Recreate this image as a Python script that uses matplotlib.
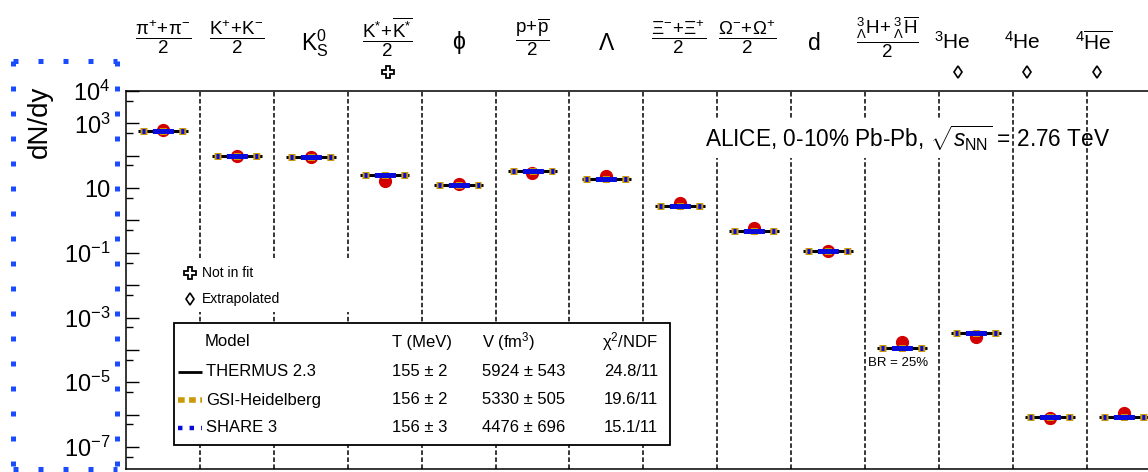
import numpy as np
import matplotlib
matplotlib.use('Agg')
import matplotlib.pyplot as plt
import matplotlib.transforms as mtransforms
from matplotlib.patches import Rectangle
from matplotlib.ticker import FixedLocator, FixedFormatter, NullFormatter

plt.rcParams['font.family'] = ['Liberation Sans', 'DejaVu Sans']
plt.rcParams['mathtext.fontset'] = 'custom'
plt.rcParams['mathtext.rm'] = 'Liberation Sans'
plt.rcParams['mathtext.it'] = 'Liberation Sans:italic'
plt.rcParams['mathtext.bf'] = 'Liberation Sans:bold'
plt.rcParams['mathtext.sf'] = 'Liberation Sans'

# ---------------- data ----------------
particles = [r'$\dfrac{\mathrm{π^{+}\!+\!π^{-}}}{2}$',
             r'$\dfrac{\mathrm{K^{+}\!+\!K^{-}}}{2}$',
             r'$\mathrm{K^{0}_{S}}$',
             r'$\dfrac{\mathrm{K^{*}\!+\!\overline{K^{*}}}}{2}$',
             'ϕ',
             r'$\dfrac{\mathrm{p\!+\!\overline{p}}}{2}$',
             r'$\mathrm{Λ}$',
             r'$\dfrac{\mathrm{Ξ^{-}\!+\!Ξ^{+}}}{2}$',
             r'$\dfrac{\mathrm{Ω^{-}\!+\!Ω^{+}}}{2}$',
             r'$\mathrm{d}$',
             r'$\dfrac{{}^{3}_{Λ}\mathrm{H}\!+{}^{3}_{Λ}\overline{\mathrm{H}}}{2}$',
             r'$^{3}\mathrm{He}$',
             r'$^{4}\mathrm{He}$',
             r'$^{4}\overline{\mathrm{He}}$']
label_shift = [0, 0, 0.05, 0.03, 0, 0, 0, -0.03, -0.09, -0.2, -0.2, -0.32, -0.37, -0.4]
label_kind = ['f', 'f', 's', 'f', 's', 'f', 's', 'f', 'f', 's', 'f', 'h', 'h', 'h']

data_yield = [640, 100, 92, 16.4, 13.0, 30.0, 23.4, 3.53, 0.60, 0.115,
              1.7e-4, 2.5e-4, 7.6e-7, 1.15e-6]
thermus = [570, 101, 92, 25.0, 12.1, 33.4, 18.5, 2.79, 0.475, 0.115,
           1.11e-4, 3.4e-4, 8.2e-7, 8.2e-7]
gsi = [570, 101, 92, 25.0, 12.1, 33.4, 18.5, 2.79, 0.475, 0.115,
       1.11e-4, 3.4e-4, 8.2e-7, 8.2e-7]
share = [570, 101, 92, 25.0, 12.1, 33.4, 18.5, 2.79, 0.475, 0.115,
         1.11e-4, 3.4e-4, 8.2e-7, 8.2e-7]
he4_err = [2.0e-7]

legend_models = ['THERMUS 2.3', 'GSI-Heidelberg', 'SHARE 3']
legend_T = ['155 ± 2', '156 ± 2', '156 ± 3']
legend_V = ['5924 ± 543', '5330 ± 505', '4476 ± 696']
legend_chi = ['24.8/11', '19.6/11', '15.1/11']

ytick_exp = [-7, -6, -5, -4, -3, -2, -1, 0, 1, 2, 3, 4]
ytick_lab = [r'$10^{-7}$', '', r'$10^{-5}$', '', r'$10^{-3}$', '', r'$10^{-1}$', '',
             '10', '', r'$10^{3}$', r'$10^{4}$']

# ---------------- layout ----------------
W, H = 1148, 472
fig = plt.figure(figsize=(W / 100, H / 100), dpi=100)
colw = 73.9
ax_l, ax_t, ax_b = 126, 91, 469
ncol = len(data_yield)
ax = fig.add_axes([ax_l / W, (H - ax_b) / H, ncol * colw / W, (ax_b - ax_t) / H])
ax.set_yscale('log')
ax.set_xlim(-0.5, ncol - 0.5)
ax.set_ylim(10 ** -7.68, 1e4)
ax.set_xticks([])
ax.yaxis.set_major_locator(FixedLocator([10.0 ** e for e in ytick_exp]))
ax.yaxis.set_major_formatter(FixedFormatter(ytick_lab))
ax.yaxis.set_minor_locator(FixedLocator([5 * 10.0 ** e for e in range(-8, 4)]))
ax.yaxis.set_minor_formatter(NullFormatter())
ax.tick_params(axis='y', which='both', direction='in', left=True, right=True,
               labelsize=17, pad=11, width=1.0)
ax.tick_params(axis='y', which='major', length=9.5)
ax.tick_params(axis='y', which='minor', length=5)
for sp in ax.spines.values():
    sp.set_linewidth(1.1)

# separators
for i in range(ncol - 1):
    ax.axvline(i + 0.5, color='black', lw=1.1, ls=(0, (3, 1.6)), zorder=1)

x = np.arange(ncol)
gold = '#c99a06'
blue = '#0a0adc'
red = '#d20000'

# data points
ax.plot(x, data_yield, 'o', color=red, ms=8.5, mec=red, zorder=3)
ax.errorbar([x[12]], [data_yield[12]], yerr=he4_err, fmt='none', ecolor=red,
            elinewidth=1.2, capsize=3, zorder=3)

hw = 0.31
gold_lw_px, blue_lw_px = 7.0, 5.0
for i in range(ncol):
    ax.plot([x[i] - hw - 0.025, x[i] + hw + 0.025], [thermus[i]] * 2, color='black',
            lw=2.2, solid_capstyle='butt', zorder=4)
    ax.plot([x[i] - hw, x[i] + hw], [gsi[i]] * 2, color=gold, lw=gold_lw_px * 0.72,
            ls=(0, (7 / gold_lw_px, 12.4 / gold_lw_px)), dash_capstyle='butt', zorder=5)
    ax.plot([x[i] - hw, x[i] + hw], [share[i]] * 2, color=blue, lw=blue_lw_px * 0.72,
            ls=(43.8 / blue_lw_px, (3 / blue_lw_px, 7.4 / blue_lw_px, 21 / blue_lw_px,
                                   7.4 / blue_lw_px, 3 / blue_lw_px, 4 / blue_lw_px)),
            dash_capstyle='butt', zorder=6)

# ---------------- overlay in pixel coords ----------------
ov = fig.add_axes([0, 0, 1, 1])
ov.set_xlim(0, W)
ov.set_ylim(H, 0)
ov.axis('off')
ov.set_zorder(5)

blend = mtransforms.blended_transform_factory(ax.transData, ov.transData)
for i, lab in enumerate(particles):
    if label_kind[i] == 'f':
        ax.text(x[i] + label_shift[i], 37, lab, transform=blend, ha='center',
                va='center', fontsize=13.5, clip_on=False)
    elif label_kind[i] == 'h':
        ax.text(x[i] + label_shift[i], 42, lab, transform=blend, ha='center',
                va='center', fontsize=15, clip_on=False)
    else:
        ax.text(x[i] + label_shift[i], 43, lab, transform=blend, ha='center',
                va='center', fontsize=16.5, clip_on=False,
                family=['Liberation Sans', 'DejaVu Sans'])

# not in fit / extrapolated markers under labels
ov.plot([388], [72], 'P', mfc='white', mec='black', ms=8, mew=1.3)
ov.plot([958, 1027, 1097], [72, 72, 72], 'd', mfc='white', mec='black', ms=6, mew=1.2)

# white masks
ov.add_patch(Rectangle((700, 118), 295, 40, fc='white', ec='none'))
ov.add_patch(Rectangle((172, 258), 190, 54, fc='white', ec='none'))
ov.text(705, 138, r'ALICE, 0-10% Pb-Pb, $\sqrt{s_{\mathrm{NN}}}$ = 2.76 TeV',
        fontsize=16.3, ha='left', va='center')

ov.plot([190], [273], 'P', mfc='white', mec='black', ms=8, mew=1.3)
ov.text(202, 273, 'Not in fit', fontsize=10, ha='left', va='center')
ov.plot([190], [299], 'd', mfc='white', mec='black', ms=6, mew=1.2)
ov.text(202, 299, 'Extrapolated', fontsize=10, ha='left', va='center')

ov.text(868, 363, 'BR = 25%', fontsize=9.5, ha='left', va='center')

# legend box
ov.add_patch(Rectangle((174, 323), 496, 122, fc='white', ec='black', lw=1.3))
ov.text(205, 342, 'Model', fontsize=12, ha='left', va='center')
ov.text(392, 342, 'T (MeV)', fontsize=12, ha='left', va='center')
ov.text(482, 342, r'V (fm$^{3}$)', fontsize=12, ha='left', va='center')
ov.text(602, 342, r'χ$^{2}$/NDF', fontsize=12, ha='left', va='center')
rows_y = [372, 400, 428]
for j in range(3):
    ov.text(206, rows_y[j], legend_models[j], fontsize=12, ha='left', va='center')
    ov.text(392, rows_y[j], legend_T[j], fontsize=12, ha='left', va='center')
    ov.text(482, rows_y[j], legend_V[j], fontsize=12, ha='left', va='center')
    ov.text(604, rows_y[j], legend_chi[j], fontsize=12, ha='left', va='center')
ov.plot([178, 202], [rows_y[0]] * 2, color='black', lw=2.0, solid_capstyle='butt')
ov.plot([178, 202], [rows_y[1]] * 2, color=gold, lw=4.0, ls=(0, (1.2, 0.8)),
        dash_capstyle='butt')
ov.plot([178, 202], [rows_y[2]] * 2, color=blue, lw=3.2, ls=(0, (1.0, 1.6)),
        dash_capstyle='butt')

# y label
ov.text(40, 86, 'dN/dy', fontsize=20, rotation=90, ha='center', va='top')

# blue dotted highlight box
box_style = dict(color='#1a4cff', lw=3.6, ls=(0, (1, 4)), dash_capstyle='butt',
                 clip_on=False)
ov.plot([13, 117], [61, 61], **box_style)
ov.plot([13, 13], [61, 472], **box_style)
ov.plot([117, 117], [61, 472], **box_style)
ov.plot([13, 117], [469, 469], **box_style)

fig.savefig('out.png', dpi=100)
